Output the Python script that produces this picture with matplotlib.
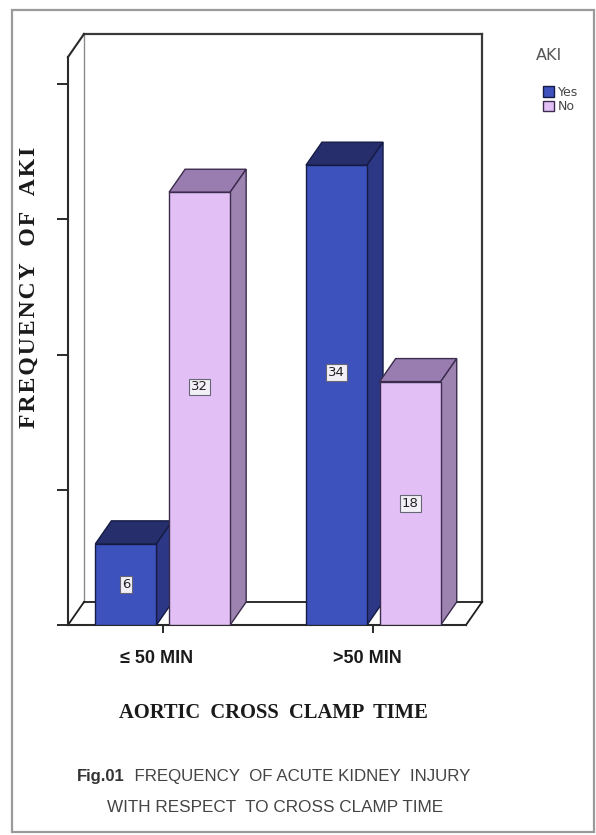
import numpy as np
import matplotlib
matplotlib.use("Agg")
import matplotlib.pyplot as plt
from matplotlib.patches import Polygon, Rectangle
from matplotlib.lines import Line2D
from matplotlib.transforms import IdentityTransform

# Datos
groups = ["\u2264 50 MIN", ">50 MIN"]
series = ["Yes", "No"]
aki_yes = [6, 34]
aki_no = [32, 18]
yticks = [0, 10, 20, 30, 40]

front = {"Yes": "#3d52bd", "No": "#e2c0f6"}
top = {"Yes": "#262f6c", "No": "#9a7db0"}
side = {"Yes": "#2c3886", "No": "#9d84b0"}
edge = {"Yes": "#151b45", "No": "#3b2b4c"}

DPI = 100
fig = plt.figure(figsize=(5.96, 8.35), dpi=DPI)
W, H = 596, 835

# marco exterior
fig.patches.append(Rectangle((12 / W, 3 / H), 582 / W, 822 / H, transform=fig.transFigure,
                             fill=False, edgecolor="#9a9a9a", lw=1.6))

ax = fig.add_axes([68 / W, 210 / H, 398 / W, 568 / H])
ax.set_xlim(-0.45, 1.44)
ax.set_ylim(0, 42)
ax.patch.set_alpha(0)
for s in ["top", "right"]:
    ax.spines[s].set_visible(False)
for s in ["left", "bottom"]:
    ax.spines[s].set_color("#2a2a2a")
    ax.spines[s].set_linewidth(1.5)
ax.set_yticks(yticks)
ax.set_yticklabels([])
ax.tick_params(axis="y", length=8, width=1.4, color="#2a2a2a")

# desplazamiento de profundidad en pixeles
D = np.array([16, 23])
ident = IdentityTransform()

def disp(x, y):
    return ax.transData.transform((x, y))

def poly(pts, fc, ec, z, lw=1.0):
    ax.add_artist(Polygon(pts, closed=True, facecolor=fc, edgecolor=ec, lw=lw,
                          transform=ident, zorder=z, clip_on=False))

def line(p, q, color, lw, z):
    ax.add_artist(Line2D([p[0], q[0]], [p[1], q[1]], color=color, lw=lw,
                         transform=ident, zorder=z, clip_on=False))

x0, x1 = ax.get_xlim()
ytop = ax.get_ylim()[1]

# pared del fondo y piso
bl = disp(x0, 0) + D
br = disp(x1, 0) + D
tl = disp(x0, ytop) + D
tr = disp(x1, ytop) + D
line(bl, tl, "#8a8a8a", 1.0, 1)
line(tl, tr, "#3a3a3a", 1.6, 1)
line(tr, br, "#3a3a3a", 1.6, 1)
line(bl, br, "#1e1e1e", 1.3, 1)
line(disp(x0, 0), bl, "#1e1e1e", 1.3, 1)
line(disp(x1, 0), br, "#1e1e1e", 1.3, 1)
line(disp(x0, ytop), tl, "#2a2a2a", 1.5, 3)

# barras 3D
x = np.arange(len(groups))
width = 0.29
offs = {"Yes": -0.175, "No": 0.175}
vals = {"Yes": aki_yes, "No": aki_no}
handles = []
order = [(g, s) for g in range(len(groups)) for s in series]
for k, (g, s) in enumerate(order):
    h = vals[s][g]
    xc = x[g] + offs[s]
    z = 5 + 2 * k
    b = ax.bar(xc, h, width, color=front[s], edgecolor=edge[s], lw=1.0, zorder=z + 1)
    if g == 0:
        handles.append(b)
    xl, xr = xc - width / 2, xc + width / 2
    a, bb = disp(xl, h), disp(xr, h)
    poly([a, bb, bb + D, a + D], top[s], edge[s], z)
    c, d = disp(xr, 0), disp(xr, h)
    poly([c, d, d + D, c + D], side[s], edge[s], z)
    ax.text(xc, h / 2 if h < 20 else h * 0.55, str(h), ha="center", va="center",
            fontsize=9.5, color="#222222", zorder=40,
            bbox=dict(boxstyle="square,pad=0.15", facecolor="#f2f0f6",
                      edgecolor="#666677", lw=0.8))

ax.set_xticks(x - 0.03)
ax.set_xticklabels(groups, fontsize=13, color="#1a1a1a", weight="bold",
                   family=["Liberation Sans Narrow", "Liberation Sans"])
ax.tick_params(axis="x", length=0, pad=18)
# marcas de categoria entre las barras de cada grupo
for xt in x:
    line(disp(xt, 0), disp(xt, 0) - np.array([0, 7]), "#2a2a2a", 1.4, 2)

# leyenda
fig.text(549 / W, 1 - 56 / H, "AKI", ha="center", va="center", fontsize=11.5,
         color="#555555")
leg = fig.legend(handles, series, loc="upper left",
                 bbox_to_anchor=(534 / W, 1 - 77 / H), frameon=False,
                 fontsize=9, handlelength=0.9, handleheight=0.9,
                 handletextpad=0.3, labelspacing=0.1, borderpad=0.2)
for t in leg.get_texts():
    t.set_color("#444444")

# titulos de ejes
hs = "\u200a"
ylab = hs.join("FREQUENCY") + "   " + hs.join("OF") + "   " + hs.join("AKI")
fig.text(29 / W, 1 - 287 / H, ylab, rotation=90, ha="center", va="center",
         family=["Liberation Serif", "DejaVu Serif"], weight="bold", fontsize=17,
         color="#1a1a1a")
fig.text(273 / W, 1 - 713 / H, "AORTIC  CROSS  CLAMP  TIME", ha="center", va="center",
         family="Liberation Serif", weight="bold", fontsize=14.8, color="#1a1a1a")

# pie de figura
cap_font = ["Liberation Sans Narrow", "Liberation Sans"]
t1 = fig.text(77 / W, 1 - 776 / H, "Fig.01", ha="left", va="center",
              family=cap_font, weight="bold", fontsize=12, color="#333333")
ax.annotate("  FREQUENCY  OF ACUTE KIDNEY  INJURY", xy=(1, 0.5), xycoords=t1,
            ha="left", va="center", family=cap_font, fontsize=12.2, color="#444444")
fig.text(275 / W, 1 - 808 / H, "WITH RESPECT  TO CROSS CLAMP TIME", ha="center", va="center",
         family=cap_font, fontsize=12.3, color="#444444")

fig.savefig("out.png", dpi=DPI, facecolor="white")
